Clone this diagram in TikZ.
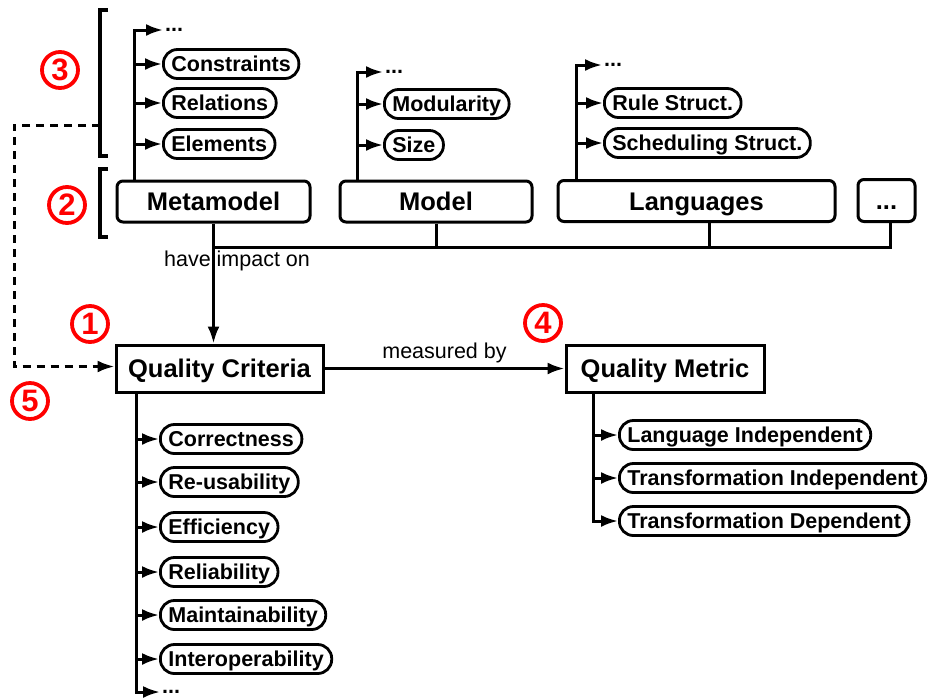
\documentclass[tikz,border=0pt]{standalone}
\usepackage{fontspec}
\setmainfont{Liberation Sans}
\usetikzlibrary{arrows.meta}
\tikzset{
	box/.style={draw,line width=3pt,rounded corners=6pt,minimum height=41pt,text height=18pt,text depth=0pt,font=\fontsize{25.5}{28}\selectfont\bfseries},
	critbox/.style={box,rounded corners=0pt,minimum height=47pt},
	pill/.style={draw,line width=2.8pt,rounded corners=14pt,minimum height=29pt,inner xsep=8pt,inner ysep=0pt,text height=15.5pt,text depth=1pt,anchor=west,font=\fontsize{21.5}{24}\selectfont\bfseries},
	dotsnode/.style={anchor=west,inner sep=2pt,font=\fontsize{21.5}{24}\selectfont\bfseries},
	lbl/.style={font=\fontsize{21.5}{24}\selectfont},
	num/.style={circle,draw=red,text=red,line width=3.8pt,minimum size=36pt,inner sep=0pt,font=\fontsize{31}{33}\selectfont\bfseries},
	link/.style={line width=3pt},
	arr/.style={link,-{Latex[length=17pt,width=12pt]}},
}

\begin{document}
\begin{tikzpicture}[x=1pt,y={(0pt,-1pt)}]
			%%%%% START %%%%%
			\def\bus{247}
			\def\qcx{159}
			\def\qmx{618}
			\useasboundingbox (0,0) rectangle (931,697);
			
			% top row
			\node[box,minimum width=193pt] (mm) at (213.5,201.5) {Metamodel};
			\node[box,minimum width=192pt] (md) at (436,201.5) {Model};
			\node[box,minimum width=277pt] (lang) at (696.5,201) {Languages};
			\node[box,minimum width=57pt,minimum height=42pt] (etc) at (886.5,200.5) {...};
			
			% criteria and metric
			\node[critbox,minimum width=207pt] (qc) at (219.5,368.5) {Quality Criteria};
			\node[critbox,minimum width=198pt] (qm) at (665,368.5) {Quality Metric};
			
			% metamodel parts
			\coordinate (mmtrunk) at ([xshift=19pt]mm.north west);
			\node[dotsnode] (mmdots) at (163,30) {...};
			\node[pill] (cons) at (162,64) {Constraints};
			\node[pill] (rels) at (162,103) {Relations};
			\node[pill] (elems) at (162,144) {Elements};
			\draw[arr] (mmtrunk) |- (mmdots);
			\draw[arr] (mmtrunk |- cons) -- (cons);
			\draw[arr] (mmtrunk |- rels) -- (rels);
			\draw[arr] (mmtrunk |- elems) -- (elems);
			
			% model parts
			\coordinate (mdtrunk) at ([xshift=19pt]md.north west);
			\node[dotsnode] (mddots) at (383,72) {...};
			\node[pill] (modu) at (383,104) {Modularity};
			\node[pill] (size) at (383,145) {Size};
			\draw[arr] (mdtrunk) |- (mddots);
			\draw[arr] (mdtrunk |- modu) -- (modu);
			\draw[arr] (mdtrunk |- size) -- (size);
			
			% language parts
			\coordinate (lgtrunk) at ([xshift=20pt]lang.north west);
			\node[dotsnode] (lgdots) at (602,65) {...};
			\node[pill] (rule) at (603,103) {Rule Struct.};
			\node[pill] (sched) at (603,143) {Scheduling Struct.};
			\draw[arr] (lgtrunk) |- (lgdots);
			\draw[arr] (lgtrunk |- rule) -- (rule);
			\draw[arr] (lgtrunk |- sched) -- (sched);
			
			% impact bus
			\coordinate (busl) at (mm.south |- 0,\bus);
			\draw[link] ([xshift=3.5pt]etc.south) |- (busl);
			\draw[link] (md.south) -- (md.south |- busl);
			\draw[link] ([xshift=12.5pt]lang.south) -- ([xshift=12.5pt]lang.south |- busl);
			\draw[arr] (mm.south) -- (mm.south |- qc.north);
			\node[lbl] (impact) at (237,261) {have impact on};
			
			\draw[arr] (qc) -- (qm) node[lbl,midway,above=1pt] (measured) {measured by};
			
			% criteria list
			\coordinate (qctrunk) at ([xshift=22pt]qc.south west);
			\node[pill] (corr) at (\qcx,439) {Correctness};
			\node[pill] (reus) at (\qcx,482) {Re-usability};
			\node[pill] (effi) at (\qcx,527) {Efficiency};
			\node[pill] (reli) at (\qcx,572) {Reliability};
			\node[pill] (main) at (\qcx,615) {Maintainability};
			\node[pill] (inter) at (\qcx,659) {Interoperability};
			\node[dotsnode] (qcdots) at (160,692) {...};
			\draw[arr] (qctrunk) |- (qcdots);
			\draw[arr] (qctrunk |- corr) -- (corr);
			\draw[arr] (qctrunk |- reus) -- (reus);
			\draw[arr] (qctrunk |- effi) -- (effi);
			\draw[arr] (qctrunk |- reli) -- (reli);
			\draw[arr] (qctrunk |- main) -- (main);
			\draw[arr] (qctrunk |- inter) -- (inter);
			
			% metric list
			\coordinate (qmtrunk) at ([xshift=29pt]qm.south west);
			\node[pill] (langind) at (\qmx,435) {Language Independent};
			\node[pill] (trind) at (\qmx,478) {Transformation Independent};
			\node[pill] (trdep) at (\qmx,521) {Transformation Dependent};
			\draw[arr] (qmtrunk) |- (trdep);
			\draw[arr] (qmtrunk |- langind) -- (langind);
			\draw[arr] (qmtrunk |- trind) -- (trind);
			
			% brackets and feedback
			\draw[line width=3.5pt] (108,10) -- (100,10) -- (100,156) -- (108,156);
			\draw[line width=3.5pt] (108,169) -- (100,169) -- (100,237) -- (108,237);
			\coordinate (fbstart) at (100,125);
			\coordinate (fbcorner) at (14,125);
			\draw[arr,dash pattern=on 8pt off 6pt] (fbstart) -- (fbcorner) |- ([yshift=2pt]qc.west);
			
			% numbers
			\node[num] (n3) at (60,70) {3};
			\node[num] (n2) at (67,205) {2};
			\node[num] (n1) at (90,324) {1};
			\node[num] (n4) at (543,323) {4};
			\node[num] (n5) at (30,401) {5};
			%%%%% END %%%%%
\end{tikzpicture}
\end{document}
